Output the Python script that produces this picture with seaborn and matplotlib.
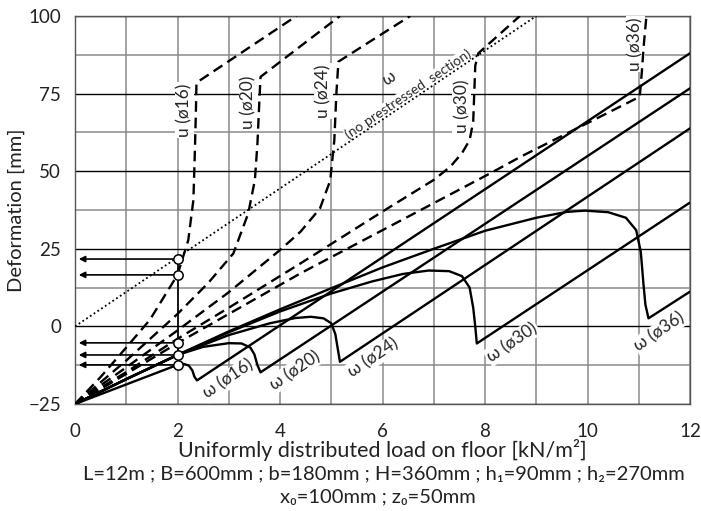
import numpy as np
import pandas as pd
import seaborn as sns
import matplotlib
matplotlib.use("Agg")
import matplotlib.pyplot as plt
from matplotlib.ticker import MultipleLocator

# ---- data (load q [kN/m2] -> deformation [mm]) ----
# omega = deflection at midspan (solid), u = (dashed), per bar diameter
omega16_x = [0, 1.0, 2.0, 2.12, 2.22, 2.29, 2.33, 2.38, 12.0]
omega16_y = [-25, -18.7, -12.4, -12.1, -12.6, -14.2, -16.2, -17.4, 88.0]

omega20_x = [0, 1.0, 2.0, 2.5, 3.0, 3.25, 3.42, 3.5, 3.56, 3.62, 12.0]
omega20_y = [-25, -17.0, -9.2, -6.6, -5.4, -5.5, -6.8, -9.0, -12.5, -14.8, 76.7]

omega24_x = [0, 1.0, 2.0, 3.0, 3.8, 4.3, 4.6, 4.85, 5.0, 5.08, 5.13, 5.17, 12.0]
omega24_y = [-25, -17.0, -9.2, -2.8, 1.0, 2.7, 3.1, 2.6, 1.0, -2.5, -7.5, -11.4, 63.8]

omega30_x = [0, 1.0, 2.0, 3.0, 4.0, 5.0, 5.8, 6.4, 6.9, 7.3, 7.55, 7.7, 7.77, 7.81, 7.84, 12.0]
omega30_y = [-25, -17.0, -9.2, -1.9, 4.8, 10.6, 14.5, 16.9, 18.0, 17.8, 16.2, 12.5, 6.0, 0.0, -5.5, 39.9]

omega36_x = [0, 1.0, 2.0, 3.0, 4.0, 5.0, 6.0, 7.0, 8.0, 9.0, 9.6, 9.95, 10.4, 10.75, 10.95,
             11.04, 11.09, 11.13, 11.19, 12.0]
omega36_y = [-25, -17.0, -9.2, -1.6, 5.5, 12.3, 19.0, 25.0, 30.8, 35.0, 36.9, 37.3, 36.8, 35.0, 31.0,
             24.0, 14.0, 7.0, 2.6, 11.2]

u16_x = [0, 0.5, 1.0, 1.46, 2.0, 2.21, 2.31, 2.34, 2.36, 2.37, 4.32]
u16_y = [-25, -16.3, -6.8, 2.1, 16.6, 27.8, 40.7, 57.0, 70.0, 78.5, 100]

u20_x = [0, 0.5, 1.0, 2.0, 2.6, 3.09, 3.38, 3.51, 3.56, 3.59, 3.62, 5.17]
u20_y = [-25, -18.0, -11.0, 4.0, 14.0, 23.5, 36.4, 47.2, 59.0, 70.0, 80.4, 100]

u24_x = [0, 0.5, 1.0, 2.0, 3.0, 4.0, 4.4, 4.78, 4.98, 5.06, 5.1, 5.14, 6.54]
u24_y = [-25, -19.0, -13.2, -1.3, 11.0, 24.6, 30.5, 38.0, 47.0, 60.0, 75.0, 85.3, 100]

u30_x = [0, 0.5, 1.0, 2.0, 3.0, 4.4, 6.0, 7.0, 7.32, 7.55, 7.7, 7.77, 7.79, 7.81, 7.87, 8.68]
u30_y = [-25, -19.8, -14.7, -4.0, 6.0, 20.3, 37.0, 47.2, 51.4, 55.8, 60.0, 66.0, 75.0, 84.0, 88.0, 100]

u36_x = [0, 0.5, 1.0, 2.0, 3.0, 4.4, 6.0, 8.1, 8.7, 10.0, 11.02, 11.06, 11.1, 11.15]
u36_y = [-25, -20.2, -15.3, -5.4, 4.0, 17.1, 31.0, 49.3, 54.7, 65.5, 74.0, 82.0, 91.0, 100]

# omega of the section without prestress (dotted)
plain_x = [0, 9.0]
plain_y = [0, 100]

# values read at q = 2 kN/m2 (circles + arrows to the axis)
read_q = 2.0
read_vals = [21.7, 16.6, -5.3, -9.2, -12.4]

diam = ["16", "20", "24", "30", "36"]

# ---- plot ----
sns.set_theme(style="white")
plt.rcParams["font.family"] = ["Lato", "DejaVu Sans"]

fig = plt.figure(figsize=(7.01, 5.11), dpi=100)
ax = fig.add_axes([75 / 701, 1 - 404 / 511, 615 / 701, 388 / 511])

omegas = [(omega16_x, omega16_y), (omega20_x, omega20_y), (omega24_x, omega24_y),
          (omega30_x, omega30_y), (omega36_x, omega36_y)]
us = [(u16_x, u16_y), (u20_x, u20_y), (u24_x, u24_y), (u30_x, u30_y), (u36_x, u36_y)]

for xs, ys in omegas:
    sns.lineplot(x=xs, y=ys, sort=False, estimator=None, color="black", lw=1.7, ax=ax, zorder=4)
for xs, ys in us:
    sns.lineplot(x=xs, y=ys, sort=False, estimator=None, color="black", lw=1.7,
                 linestyle=(0, (4.5, 2.5)), ax=ax, zorder=4)
sns.lineplot(x=plain_x, y=plain_y, sort=False, estimator=None, color="black", lw=1.3,
             linestyle=(0, (1, 1.5)), ax=ax, zorder=4)

# reading at q = 2
ax.plot([read_q, read_q], [min(read_vals), max(read_vals)], color="black", lw=1.2, zorder=5)
for v in read_vals:
    ax.annotate("", xy=(0.02, v), xytext=(read_q, v),
                arrowprops=dict(arrowstyle="-|>", color="black", lw=1.2, mutation_scale=9),
                zorder=5)
ax.scatter([read_q] * len(read_vals), read_vals, s=45, facecolor="white",
           edgecolor="black", linewidth=1.1, zorder=6)

# labels
box = dict(facecolor="white", edgecolor="none", pad=1.0)
u_lab_pos = [(2.13, 69.7), (3.38, 72.3), (4.84, 75.8), (7.55, 71.0), (10.93, 91.0)]
for d, (xx, yy) in zip(diam, u_lab_pos):
    ax.text(xx, yy, f"u (ø{d})", rotation=90, ha="center", va="center", fontsize=12.5,
            bbox=box, zorder=3)

w_lab_pos = [(3.0, -17.0), (4.29, -14.2), (5.82, -10.1), (8.53, -5.2), (11.41, -1.7)]
for d, (xx, yy) in zip(diam, w_lab_pos):
    ax.text(xx, yy, f"ω (ø{d})", rotation=34, rotation_mode="anchor", ha="center", va="center",
            fontsize=12.5, bbox=box, zorder=3)

ax.text(6.12, 80.0, "ω", rotation=34, rotation_mode="anchor", ha="center", va="center",
        fontsize=12, zorder=3)
ax.text(6.5, 74.8, "(no prestressed  section)", rotation=34, rotation_mode="anchor",
        ha="center", va="center", fontsize=10, bbox=dict(facecolor="white", edgecolor="none", pad=0.3),
        zorder=3)

# axes, grid
ax.set_xlim(0, 12)
ax.set_ylim(-25, 100)
ax.xaxis.set_major_locator(MultipleLocator(2))
ax.xaxis.set_minor_locator(MultipleLocator(1))
ax.yaxis.set_major_locator(MultipleLocator(25))
ax.yaxis.set_minor_locator(MultipleLocator(12.5))
ax.xaxis.grid(True, which="both", color="#8a8a8a", lw=1.1)
ax.yaxis.grid(True, which="major", color="black", lw=1.0)
ax.yaxis.grid(True, which="minor", color="#8a8a8a", lw=1.1)
ax.set_axisbelow(True)
ax.tick_params(axis="both", which="both", length=0, labelsize=13.5, colors="#222222")
ax.tick_params(axis="x", pad=14)
ax.tick_params(axis="y", pad=10)
for s in ax.spines.values():
    s.set_color("#555555")
    s.set_linewidth(1.0)

ax.set_ylabel("Deformation [mm]", fontsize=14.5, color="#222222")
ax.yaxis.set_label_coords(-0.082, 0.5)
fig.text(382 / 701, 1 - 450 / 511, "Uniformly distributed load on floor [kN/m²]",
         ha="center", va="center", fontsize=15.5, color="#222222")
fig.text(384 / 701, 1 - 474 / 511, "L=12m ; B=600mm ; b=180mm ; H=360mm ; h₁=90mm ; h₂=270mm",
         ha="center", va="center", fontsize=14.5, color="#222222")
fig.text(378 / 701, 1 - 497 / 511, "x₀=100mm ; z₀=50mm",
         ha="center", va="center", fontsize=14.5, color="#222222")

fig.savefig("out.png", dpi=100)
